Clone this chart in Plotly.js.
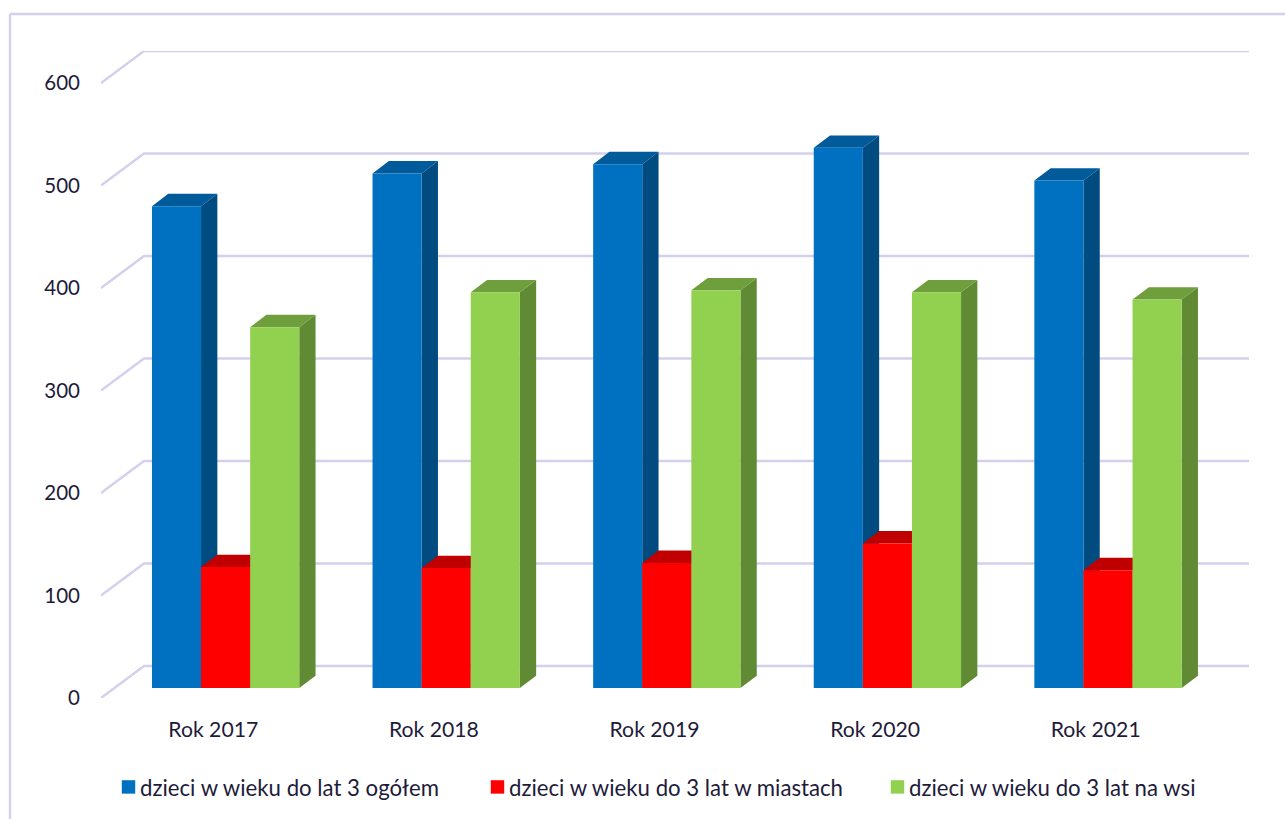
<!DOCTYPE html>
<html lang="pl">
<head>
<meta charset="utf-8">
<script src="https://cdn.plot.ly/plotly-3.0.1.min.js"></script>
<style>html,body{margin:0;padding:0;background:#fff;overflow:hidden}#chart{width:1285px;height:819px}</style>
</head>
<body>
<div id="chart"></div>
<script>
const categories = ['Rok 2017', 'Rok 2018', 'Rok 2019', 'Rok 2020', 'Rok 2021'];
const seriesNames = ['dzieci w wieku do lat 3 ogółem', 'dzieci w wieku do 3 lat w miastach', 'dzieci w wieku do 3 lat na wsi'];
const ogolem = [470, 502, 511, 527, 495];
const miasta = [118, 117, 122, 141, 115];
const wies = [352, 386, 388, 386, 379];
const yTicks = [0, 100, 200, 300, 400, 500, 600];
const frontColors = ['#0070C0', '#FF0000', '#92D050'];
const sideColors = ['#004B80', '#A80000', '#618A34'];
const topColors = ['#015A9A', '#C00000', '#6F9F3C'];
const gridColor = '#D3D0EE';
const textColor = '#1E1B3A';
const fontFamily = 'Lato, "Open Sans", sans-serif';

const W = 1285, H = 819, M = {l: 101, r: 36, t: 51, b: 120};
const pxPerCat = 220.6, pxPerVal = 616 / 600;
const xRange = [-0.5, -0.5 + (W - M.l - M.r) / pxPerCat];
const yRange = [0, (H - M.t - M.b) / pxPerVal];
const wallDx = 43 / pxPerCat, wallDy = 32 / pxPerVal;       // back wall offset of the 3D box
const barShiftX = 14.3 / pxPerCat, barBase = 10 / pxPerVal; // bars stand inside the box
const labelShiftX = 2 / pxPerCat;
const barW = 49.1 / pxPerCat, depthX = 16.3 / pxPerCat, depthY = 12.4 / pxPerVal;
const series = [ogolem, miasta, wies];
const px = v => (v - M.l) / (W - M.l - M.r);
const py = v => 1 - (v - M.t) / (H - M.t - M.b);

// gridlines on the back wall with diagonals on the side wall
const gx = [], gy = [];
yTicks.forEach(v => {
  gx.push(xRange[0], xRange[0] + wallDx, xRange[1], null);
  gy.push(v, v + wallDy, v + wallDy, null);
});
const traces = [{
  type: 'scatter', mode: 'lines', x: gx, y: gy, xaxis: 'x', yaxis: 'y', cliponaxis: false,
  line: {color: gridColor, width: 2.4}, showlegend: false, hoverinfo: 'skip'
}];

// side and top faces derived from the values
series.forEach((vals, s) => {
  const sx = [], sy = [], tx = [], ty = [];
  vals.forEach((v, i) => {
    const left = i + barShiftX + (s - 1.5) * barW, right = left + barW;
    const y0 = barBase, y1 = barBase + v;
    sx.push(right, right + depthX, right + depthX, right, right, null);
    sy.push(y0, y0 + depthY, y1 + depthY, y1, y0, null);
    tx.push(left, right, right + depthX, left + depthX, left, null);
    ty.push(y1, y1, y1 + depthY, y1 + depthY, y1, null);
  });
  [[sx, sy, sideColors[s]], [tx, ty, topColors[s]]].forEach(([x, y, c]) => traces.push({
    type: 'scatter', mode: 'lines', x, y, xaxis: 'x', yaxis: 'y', fill: 'toself', fillcolor: c,
    line: {width: 0, color: c}, showlegend: false, hoverinfo: 'skip', cliponaxis: false
  }));
});

// front faces: the real bars, on an overlay so they cover the faces
series.forEach((vals, s) => traces.push({
  type: 'bar', name: seriesNames[s], x: categories.map((_, i) => i + barShiftX), y: vals,
  base: vals.map(() => barBase), xaxis: 'x2', yaxis: 'y2',
  marker: {color: frontColors[s], line: {width: 0}},
  legend: s === 0 ? 'legend' : 'legend' + (s + 1)
}));

const legendBase = {
  yanchor: 'middle', xanchor: 'left', y: py(787), bgcolor: 'rgba(0,0,0,0)', borderwidth: 0,
  font: {family: fontFamily, size: 22.2, color: textColor}, itemclick: false, itemdoubleclick: false
};
const layout = {
  width: W, height: H, margin: M, paper_bgcolor: '#fff', plot_bgcolor: 'rgba(0,0,0,0)',
  barmode: 'group', bargap: 1 - 3 * barW, bargroupgap: 0, showlegend: true,
  font: {family: fontFamily, size: 21, color: textColor},
  xaxis: {
    range: xRange, tickmode: 'array', tickvals: categories.map((_, i) => i + labelShiftX), ticktext: categories,
    showgrid: false, zeroline: false, showline: false, ticks: '', ticklabelstandoff: 17,
    tickfont: {family: fontFamily, size: 21.2, color: textColor}, fixedrange: true
  },
  yaxis: {
    range: yRange, tickmode: 'array', tickvals: yTicks, showgrid: false, zeroline: false,
    showline: false, ticks: '', ticklabelstandoff: 20,
    tickfont: {family: fontFamily, size: 20.5, color: textColor}, fixedrange: true
  },
  xaxis2: {range: xRange, overlaying: 'x', anchor: 'y2', visible: false, fixedrange: true},
  yaxis2: {range: yRange, overlaying: 'y', anchor: 'x2', visible: false, fixedrange: true},
  legend: Object.assign({}, legendBase, {x: px(100)}),
  legend2: Object.assign({}, legendBase, {x: px(469)}),
  legend3: Object.assign({}, legendBase, {x: px(869)}),
  shapes: [
    {type: 'line', xref: 'paper', yref: 'paper', x0: px(10), x1: px(10), y0: py(14), y1: py(H + 5), line: {color: gridColor, width: 2.4}},
    {type: 'line', xref: 'paper', yref: 'paper', x0: px(10), x1: px(W + 5), y0: py(14), y1: py(14), line: {color: gridColor, width: 2.4}}
  ]
};

const gd = document.getElementById('chart');
Plotly.newPlot(gd, traces, layout, {displayModeBar: false, responsive: false}).then(() => {
  // tighter swatch-to-text gap, as in the reference legend
  gd.querySelectorAll('.legendpoints path').forEach(p => p.setAttribute('transform', 'translate(28.5,0) scale(1.12)'));
});
</script>
</body>
</html>
